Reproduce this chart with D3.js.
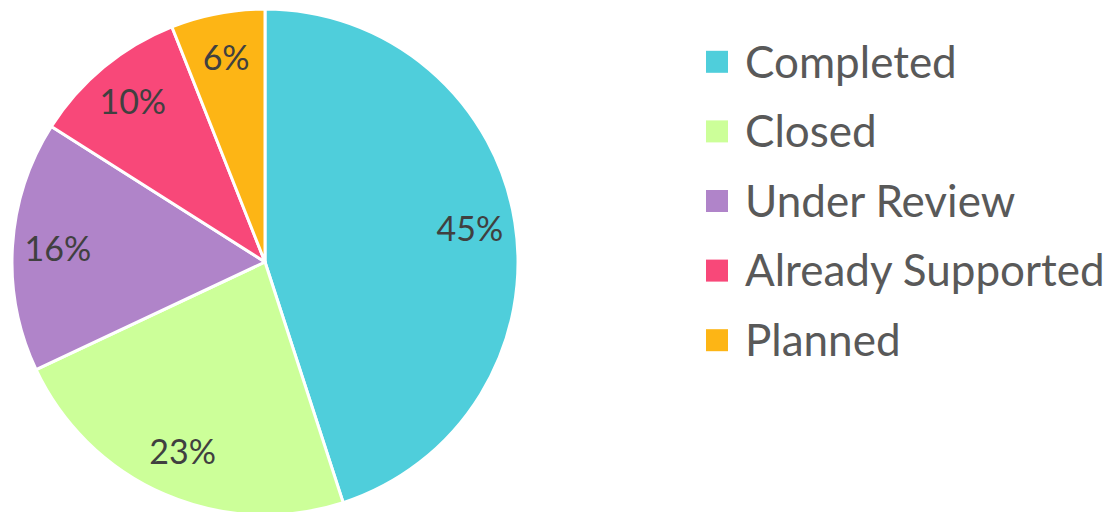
<!DOCTYPE html>
<html><head><meta charset="utf-8">
<script src="https://cdn.jsdelivr.net/npm/d3@7"></script>
<style>html,body{margin:0;padding:0;background:#fff;}svg{display:block;}</style>
</head><body>
<svg id="chart" width="1113" height="512"></svg>
<script>
const categories = ["Completed", "Closed", "Under Review", "Already Supported", "Planned"];
const values = [45, 23, 16, 10, 6];
const colors = ["#4FCEDB", "#CCFF99", "#B084C9", "#F84879", "#FDB515"];

const svg = d3.select("#chart");
const cx = 265, cy = 262, r = 253;
const data = categories.map((c, i) => ({cat: c, value: values[i], color: colors[i]}));
const pie = d3.pie().value(d => d.value).sort(null);
const arc = d3.arc().innerRadius(0).outerRadius(r);
const labelArc = d3.arc().innerRadius(r * 0.82).outerRadius(r * 0.82);
const g = svg.append("g").attr("transform", `translate(${cx},${cy})`);
const arcs = pie(data);
g.selectAll("path").data(arcs).join("path")
  .attr("d", arc).attr("fill", d => d.data.color)
  .attr("stroke", "#fff").attr("stroke-width", 3).attr("stroke-linejoin", "round");
g.selectAll("text").data(arcs).join("text")
  .attr("transform", d => `translate(${labelArc.centroid(d)})`)
  .attr("text-anchor", "middle").attr("dy", "0.35em")
  .attr("font-family", "Lato, 'Open Sans', sans-serif").attr("font-size", 34)
  .attr("fill", "#404040")
  .text(d => d.data.value + "%");

const legendY = d3.scaleBand().domain(categories).range([27, 375]);
const lg = svg.append("g");
const items = lg.selectAll("g").data(data).join("g")
  .attr("transform", d => `translate(706,${legendY(d.cat) + legendY.bandwidth()/2})`);
items.append("rect").attr("x", 0).attr("y", -11).attr("width", 22).attr("height", 22).attr("fill", d => d.color);
items.append("text").attr("x", 39).attr("dy", "0.36em")
  .attr("font-family", "Lato, 'Open Sans', sans-serif").attr("font-size", 44)
  .attr("fill", "#595959").text(d => d.cat);
</script>
</body></html>
